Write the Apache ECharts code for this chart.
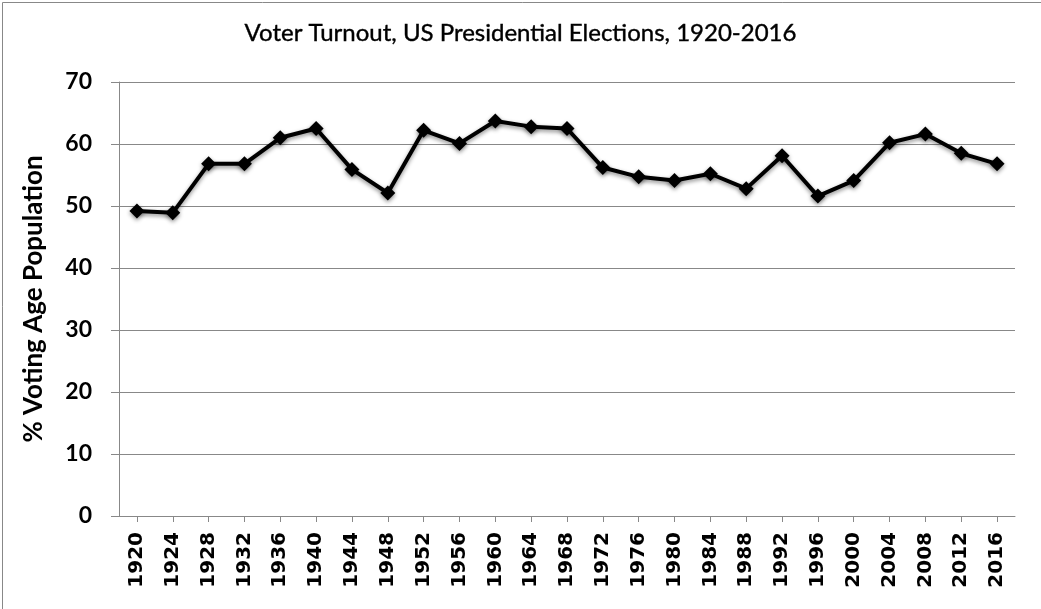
<!DOCTYPE html>
<html>
<head>
<meta charset="utf-8">
<script src="https://cdn.jsdelivr.net/npm/echarts@6/dist/echarts.min.js"></script>
<style>
html,body{margin:0;padding:0;background:#fff;}
#chart{width:1041px;height:609px;}
</style>
</head>
<body>
<div id="chart"></div>
<script>
const years = ['1920','1924','1928','1932','1936','1940','1944','1948','1952','1956','1960','1964','1968','1972','1976','1980','1984','1988','1992','1996','2000','2004','2008','2012','2016'];
const turnout = [49.2,48.9,56.8,56.8,61.0,62.5,55.9,52.1,62.2,60.1,63.7,62.8,62.5,56.2,54.7,54.1,55.2,52.8,58.1,51.6,54.1,60.2,61.6,58.5,56.8];
const yTicks = [0,10,20,30,40,50,60,70];

const chart = echarts.init(document.getElementById('chart'));
chart.setOption({
  animation: false,
  backgroundColor: '#fff',
  title: {
    text: 'Voter Turnout, US Presidential Elections, 1920-2016',
    left: 'center',
    top: 16,
    textStyle: {fontFamily: 'Lato', fontSize: 24, fontWeight: 'normal', color: '#000', textBorderColor: '#000', textBorderWidth: 0.4}
  },
  graphic: [{
    type: 'rect', left: 0, top: 0, silent: true,
    shape: {x: 0.5, y: 0.5, width: 1040, height: 608},
    style: {fill: 'none', stroke: '#888', lineWidth: 1}
  }],
  grid: {left: 119, right: 26, top: 82, bottom: 93},
  xAxis: {
    type: 'category',
    data: years,
    boundaryGap: true,
    axisLine: {show: true, lineStyle: {color: '#888', width: 1}},
    axisTick: {show: true, alignWithLabel: true, length: 6, lineStyle: {color: '#888'}},
    axisLabel: {rotate: 90, margin: 16, interval: 0, color: '#000', fontFamily: 'DejaVu Sans', fontWeight: 'bold', fontSize: 20}
  },
  yAxis: {
    type: 'value',
    min: 0, max: 70, interval: 10,
    name: '% Voting Age Population',
    nameLocation: 'middle',
    nameGap: 72,
    nameTextStyle: {fontFamily: 'Lato', fontWeight: 'bold', fontSize: 26, color: '#000'},
    axisLine: {show: true, lineStyle: {color: '#888', width: 1}},
    axisTick: {show: true, length: 8, lineStyle: {color: '#888'}},
    splitLine: {show: true, lineStyle: {color: '#888', width: 1}},
    axisLabel: {
      margin: 27, color: '#000', fontFamily: 'Lato', fontWeight: 'bold', fontSize: 23,
      formatter: v => yTicks.includes(v) ? String(v) : ''
    }
  },
  series: [{
    type: 'line',
    data: turnout,
    symbol: 'diamond',
    symbolSize: 15,
    itemStyle: {color: '#000', shadowColor: 'rgba(0,0,0,0.45)', shadowBlur: 4, shadowOffsetY: 2},
    lineStyle: {color: '#000', width: 4, shadowColor: 'rgba(0,0,0,0.45)', shadowBlur: 4, shadowOffsetY: 2}
  }]
});
</script>
</body>
</html>
